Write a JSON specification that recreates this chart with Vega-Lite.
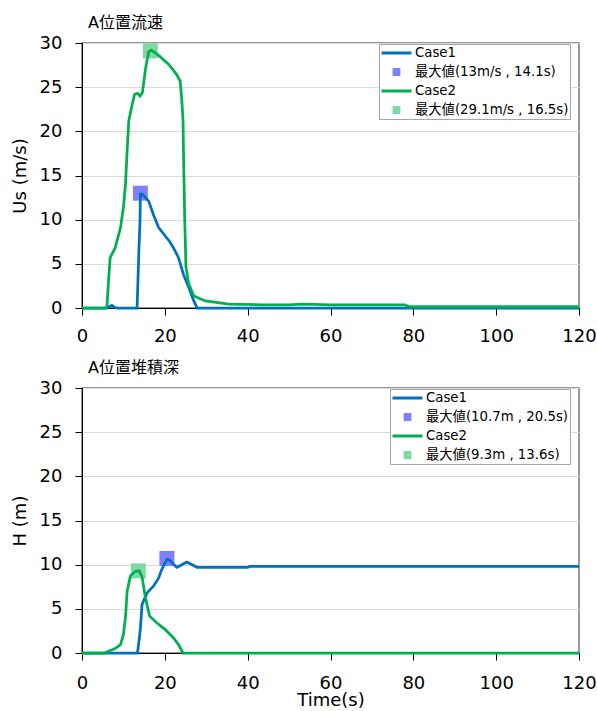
{
  "$schema": "https://vega.github.io/schema/vega-lite/v6.json",
  "padding": {"left": 10, "top": 14, "right": 2, "bottom": 0},
  "background": "white",
  "config": {
    "font": "DejaVu Sans, Noto Sans CJK JP",
    "view": {"stroke": "#767676", "strokeWidth": 1.5},
    "title": {"anchor": "start", "frame": "group", "fontSize": 16, "fontWeight": "normal", "offset": 3, "dx": 6, "color": "#000000"},
    "axis": {"labelFlush": false, "labelColor": "#000000", "titleColor": "#000000", "domainColor": "#000000", "tickColor": "#000000", "labelFontSize": 18, "titleFontSize": 18, "titleFontWeight": "normal", "gridColor": "#d9d9d9"},
    "legend": {"orient": "none", "legendX": 297, "legendY": 1, "strokeColor": "#a6a6a6", "fillColor": "white", "padding": 1, "labelFontSize": 13.3, "labelColor": "#000000", "labelLimit": 400, "symbolSize": 900, "symbolStrokeWidth": 3, "clipHeight": 16, "rowPadding": 3, "labelOffset": 2}
  },
  "resolve": {"scale": {"color": "independent"}, "legend": {"color": "independent"}},
  "datasets": {
    "us": [
      {"case": "Case1", "t": 0, "v": 0}, {"case": "Case1", "t": 5.5, "v": 0}, {"case": "Case1", "t": 6.5, "v": 0.15}, {"case": "Case1", "t": 7.2, "v": 0.3}, {"case": "Case1", "t": 8.0, "v": 0.05}, {"case": "Case1", "t": 8.5, "v": 0}, {"case": "Case1", "t": 13.3, "v": 0}, {"case": "Case1", "t": 13.7, "v": 6}, {"case": "Case1", "t": 14.0, "v": 9.8}, {"case": "Case1", "t": 14.1, "v": 12.9}, {"case": "Case1", "t": 14.6, "v": 12.9}, {"case": "Case1", "t": 16.1, "v": 12.1}, {"case": "Case1", "t": 17.3, "v": 10.5}, {"case": "Case1", "t": 18.5, "v": 9.1}, {"case": "Case1", "t": 20.1, "v": 8.15}, {"case": "Case1", "t": 21.2, "v": 7.5}, {"case": "Case1", "t": 22.1, "v": 6.8}, {"case": "Case1", "t": 23.3, "v": 5.7}, {"case": "Case1", "t": 24.5, "v": 3.8}, {"case": "Case1", "t": 25.8, "v": 2.3}, {"case": "Case1", "t": 27.0, "v": 0.8}, {"case": "Case1", "t": 27.8, "v": 0}, {"case": "Case1", "t": 120, "v": 0},
      {"case": "Case2", "t": 0, "v": 0}, {"case": "Case2", "t": 6.0, "v": 0}, {"case": "Case2", "t": 6.4, "v": 3}, {"case": "Case2", "t": 6.8, "v": 5.7}, {"case": "Case2", "t": 8.0, "v": 6.8}, {"case": "Case2", "t": 9.3, "v": 9.1}, {"case": "Case2", "t": 10.0, "v": 11.4}, {"case": "Case2", "t": 10.5, "v": 14}, {"case": "Case2", "t": 10.9, "v": 17.8}, {"case": "Case2", "t": 11.3, "v": 21.2}, {"case": "Case2", "t": 12.0, "v": 22.8}, {"case": "Case2", "t": 12.7, "v": 24.2}, {"case": "Case2", "t": 13.4, "v": 24.3}, {"case": "Case2", "t": 14.0, "v": 24.0}, {"case": "Case2", "t": 14.6, "v": 24.4}, {"case": "Case2", "t": 15.3, "v": 27.0}, {"case": "Case2", "t": 16.1, "v": 29.0}, {"case": "Case2", "t": 16.7, "v": 29.2}, {"case": "Case2", "t": 18.5, "v": 28.6}, {"case": "Case2", "t": 20.9, "v": 27.6}, {"case": "Case2", "t": 22.9, "v": 26.4}, {"case": "Case2", "t": 23.7, "v": 25.7}, {"case": "Case2", "t": 24.1, "v": 23.5}, {"case": "Case2", "t": 24.4, "v": 21.2}, {"case": "Case2", "t": 24.5, "v": 17.8}, {"case": "Case2", "t": 24.8, "v": 10.2}, {"case": "Case2", "t": 25.1, "v": 4.6}, {"case": "Case2", "t": 25.8, "v": 2.7}, {"case": "Case2", "t": 27.0, "v": 1.36}, {"case": "Case2", "t": 29.8, "v": 0.8}, {"case": "Case2", "t": 35.4, "v": 0.45}, {"case": "Case2", "t": 43.5, "v": 0.35}, {"case": "Case2", "t": 50, "v": 0.35}, {"case": "Case2", "t": 53, "v": 0.45}, {"case": "Case2", "t": 56, "v": 0.4}, {"case": "Case2", "t": 60, "v": 0.35}, {"case": "Case2", "t": 78, "v": 0.35}, {"case": "Case2", "t": 79, "v": 0.15}, {"case": "Case2", "t": 120, "v": 0.15}
    ],
    "us_max": [
      {"t": 14.1, "v": 13, "label": "最大値(13m/s , 14.1s)"},
      {"t": 16.5, "v": 29.1, "label": "最大値(29.1m/s , 16.5s)"}
    ],
    "h": [
      {"case": "Case1", "t": 0, "v": 0}, {"case": "Case1", "t": 13.4, "v": 0}, {"case": "Case1", "t": 13.8, "v": 1.5}, {"case": "Case1", "t": 14.1, "v": 2.8}, {"case": "Case1", "t": 14.5, "v": 5.5}, {"case": "Case1", "t": 15.7, "v": 6.8}, {"case": "Case1", "t": 17.3, "v": 7.6}, {"case": "Case1", "t": 18.5, "v": 8.5}, {"case": "Case1", "t": 19.3, "v": 9.5}, {"case": "Case1", "t": 20.5, "v": 10.6}, {"case": "Case1", "t": 21.2, "v": 10.5}, {"case": "Case1", "t": 21.7, "v": 10.2}, {"case": "Case1", "t": 22.9, "v": 9.7}, {"case": "Case1", "t": 24.1, "v": 10.0}, {"case": "Case1", "t": 25.3, "v": 10.3}, {"case": "Case1", "t": 26.6, "v": 10.0}, {"case": "Case1", "t": 27.8, "v": 9.7}, {"case": "Case1", "t": 40, "v": 9.7}, {"case": "Case1", "t": 40.5, "v": 9.8}, {"case": "Case1", "t": 120, "v": 9.8},
      {"case": "Case2", "t": 0, "v": 0}, {"case": "Case2", "t": 5.5, "v": 0}, {"case": "Case2", "t": 6.4, "v": 0.2}, {"case": "Case2", "t": 8.0, "v": 0.5}, {"case": "Case2", "t": 9.3, "v": 0.95}, {"case": "Case2", "t": 10.0, "v": 2.1}, {"case": "Case2", "t": 10.5, "v": 4.0}, {"case": "Case2", "t": 10.9, "v": 7.0}, {"case": "Case2", "t": 11.7, "v": 8.75}, {"case": "Case2", "t": 12.9, "v": 9.25}, {"case": "Case2", "t": 13.8, "v": 9.3}, {"case": "Case2", "t": 14.5, "v": 8.6}, {"case": "Case2", "t": 15.3, "v": 6.3}, {"case": "Case2", "t": 16.3, "v": 4.2}, {"case": "Case2", "t": 18.1, "v": 3.4}, {"case": "Case2", "t": 20.1, "v": 2.65}, {"case": "Case2", "t": 22.1, "v": 1.7}, {"case": "Case2", "t": 23.3, "v": 0.95}, {"case": "Case2", "t": 24.4, "v": 0}, {"case": "Case2", "t": 120, "v": 0}
    ],
    "h_max": [
      {"t": 20.5, "v": 10.7, "label": "最大値(10.7m , 20.5s)"},
      {"t": 13.6, "v": 9.3, "label": "最大値(9.3m , 13.6s)"}
    ],
    "xticks": [{"t": 0}, {"t": 4}, {"t": 8}, {"t": 12}, {"t": 16}, {"t": 20}, {"t": 24}, {"t": 28}, {"t": 32}, {"t": 36}, {"t": 40}, {"t": 44}, {"t": 48}, {"t": 52}, {"t": 56}, {"t": 60}, {"t": 64}, {"t": 68}, {"t": 72}, {"t": 76}, {"t": 80}, {"t": 84}, {"t": 88}, {"t": 92}, {"t": 96}, {"t": 100}, {"t": 104}, {"t": 108}, {"t": 112}, {"t": 116}, {"t": 120}],
    "yticks": [{"v": 0}, {"v": 1}, {"v": 2}, {"v": 3}, {"v": 4}, {"v": 5}, {"v": 6}, {"v": 7}, {"v": 8}, {"v": 9}, {"v": 10}, {"v": 11}, {"v": 12}, {"v": 13}, {"v": 14}, {"v": 15}, {"v": 16}, {"v": 17}, {"v": 18}, {"v": 19}, {"v": 20}, {"v": 21}, {"v": 22}, {"v": 23}, {"v": 24}, {"v": 25}, {"v": 26}, {"v": 27}, {"v": 28}, {"v": 29}, {"v": 30}]
  },
  "spacing": 13,
  "vconcat": [
    {
      "title": "A位置流速",
      "width": 497,
      "height": 265,
      "encoding": {
        "x": {"field": "t", "type": "quantitative", "scale": {"domain": [0, 120], "nice": false},
              "axis": {"orient": "bottom", "values": [0, 20, 40, 60, 80, 100, 120], "tickSize": 7, "labelPadding": 12, "grid": false, "title": null}},
        "y": {"field": "v", "type": "quantitative", "scale": {"domain": [0, 30], "nice": false},
              "axis": {"orient": "left", "values": [0, 5, 10, 15, 20, 25, 30], "tickSize": 7, "labelPadding": 13, "grid": true, "title": "Us (m/s)", "titlePadding": 10}}
      },
      "layer": [
        {
          "data": {"name": "us_max"},
          "mark": {"type": "square", "size": 225, "opacity": 1},
          "encoding": {
            "color": {"field": "label", "type": "nominal",
                      "scale": {"domain": ["Case1", "最大値(13m/s , 14.1s)", "Case2", "最大値(29.1m/s , 16.5s)"], "range": ["#0070C0", "#8080FF", "#00B050", "#80D8A3"]},
                      "legend": {"title": null,
                                 "encoding": {"symbols": {
                                   "shape": {"condition": {"test": "datum.value == 'Case1' || datum.value == 'Case2'", "value": "stroke"}, "value": "M-0.16,-0.16H0.16V0.16H-0.16Z"},
                                   "fill": {"condition": [{"test": "datum.value == '最大値(13m/s , 14.1s)'", "value": "#8080FF"}, {"test": "datum.value == '最大値(29.1m/s , 16.5s)'", "value": "#80D8A3"}], "value": "transparent"},
                                   "stroke": {"condition": [{"test": "datum.value == 'Case1'", "value": "#0070C0"}, {"test": "datum.value == 'Case2'", "value": "#00B050"}], "value": "transparent"},
                                   "strokeWidth": {"value": 3},
                                   "opacity": {"value": 1}
                                 }}}}
          }
        },
        {
          "data": {"name": "us"},
          "mark": {"type": "line", "strokeWidth": 2.75},
          "encoding": {
            "color": {"field": "case", "type": "nominal"}
          }
        },
        {
          "data": {"name": "xticks"},
          "mark": {"type": "tick", "orient": "vertical", "size": 6, "thickness": 1, "yOffset": -3, "color": "#000000", "opacity": 1},
          "encoding": {
            "y": {"datum": 0, "type": "quantitative"}
          }
        },
        {
          "data": {"name": "yticks"},
          "mark": {"type": "tick", "orient": "horizontal", "size": 6, "thickness": 1, "xOffset": 3, "color": "#000000", "opacity": 1},
          "encoding": {
            "x": {"datum": 0, "type": "quantitative"}
          }
        }
      ]
    },
    {
      "title": "A位置堆積深",
      "width": 497,
      "height": 265,
      "encoding": {
        "x": {"field": "t", "type": "quantitative", "scale": {"domain": [0, 120], "nice": false},
              "axis": {"orient": "bottom", "values": [0, 20, 40, 60, 80, 100, 120], "tickSize": 7, "labelPadding": 14, "grid": false, "title": "Time(s)", "titleFontSize": 18, "titlePadding": -1}},
        "y": {"field": "v", "type": "quantitative", "scale": {"domain": [0, 30], "nice": false},
              "axis": {"orient": "left", "values": [0, 5, 10, 15, 20, 25, 30], "tickSize": 7, "labelPadding": 13, "grid": true, "title": "H (m)", "titlePadding": 10}}
      },
      "layer": [
        {
          "data": {"name": "h_max"},
          "mark": {"type": "square", "size": 225, "opacity": 1},
          "encoding": {
            "color": {"field": "label", "type": "nominal",
                      "scale": {"domain": ["Case1", "最大値(10.7m , 20.5s)", "Case2", "最大値(9.3m , 13.6s)"], "range": ["#0070C0", "#8080FF", "#00B050", "#80D8A3"]},
                      "legend": {"title": null, "legendX": 308,
                                 "encoding": {"symbols": {
                                   "shape": {"condition": {"test": "datum.value == 'Case1' || datum.value == 'Case2'", "value": "stroke"}, "value": "M-0.16,-0.16H0.16V0.16H-0.16Z"},
                                   "fill": {"condition": [{"test": "datum.value == '最大値(10.7m , 20.5s)'", "value": "#8080FF"}, {"test": "datum.value == '最大値(9.3m , 13.6s)'", "value": "#80D8A3"}], "value": "transparent"},
                                   "stroke": {"condition": [{"test": "datum.value == 'Case1'", "value": "#0070C0"}, {"test": "datum.value == 'Case2'", "value": "#00B050"}], "value": "transparent"},
                                   "strokeWidth": {"value": 3},
                                   "opacity": {"value": 1}
                                 }}}}
          }
        },
        {
          "data": {"name": "h"},
          "mark": {"type": "line", "strokeWidth": 2.75},
          "encoding": {
            "color": {"field": "case", "type": "nominal"}
          }
        },
        {
          "data": {"name": "xticks"},
          "mark": {"type": "tick", "orient": "vertical", "size": 6, "thickness": 1, "yOffset": -3, "color": "#000000", "opacity": 1},
          "encoding": {
            "y": {"datum": 0, "type": "quantitative"}
          }
        },
        {
          "data": {"name": "yticks"},
          "mark": {"type": "tick", "orient": "horizontal", "size": 6, "thickness": 1, "xOffset": 3, "color": "#000000", "opacity": 1},
          "encoding": {
            "x": {"datum": 0, "type": "quantitative"}
          }
        }
      ]
    }
  ]
}
